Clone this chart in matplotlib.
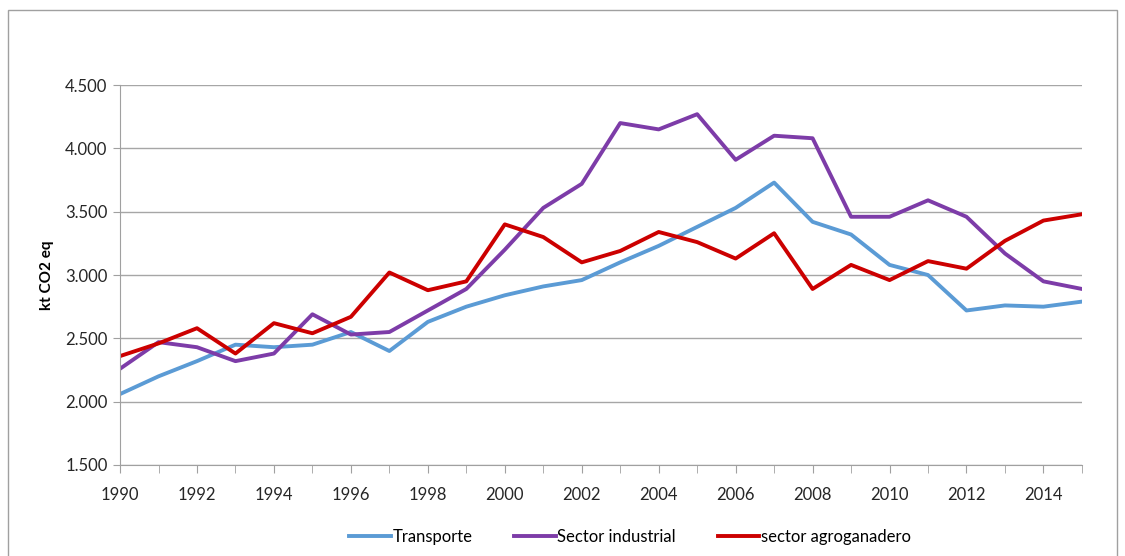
import matplotlib.pyplot as plt
from matplotlib.patches import Rectangle
from matplotlib.ticker import FuncFormatter

years = list(range(1990, 2016))
transporte = [2060, 2200, 2320, 2450, 2430, 2450, 2550, 2400, 2630, 2750,
              2840, 2910, 2960, 3100, 3230, 3380, 3530, 3730, 3420, 3320,
              3080, 3000, 2720, 2760, 2750, 2790]
industrial = [2260, 2470, 2430, 2320, 2380, 2690, 2530, 2550, 2720, 2890,
              3200, 3530, 3720, 4200, 4150, 4270, 3910, 4100, 4080, 3460,
              3460, 3590, 3460, 3170, 2950, 2890]
agro = [2360, 2460, 2580, 2380, 2620, 2540, 2670, 3020, 2880, 2950,
        3400, 3300, 3100, 3190, 3340, 3260, 3130, 3330, 2890, 3080,
        2960, 3110, 3050, 3270, 3430, 3480]
labels = ['Transporte', 'Sector industrial', 'sector agroganadero']
colors = ['#5b9bd5', '#7d3ca8', '#cc0000']

plt.rcParams['font.family'] = ['Lato', 'DejaVu Sans']

fig = plt.figure(figsize=(11.25, 5.56), dpi=100)
ax = fig.add_axes([0.1067, 0.1637, 0.855, 0.6833])

for serie, lab, col in zip([transporte, industrial, agro], labels, colors):
    ax.plot(years, serie, color=col, linewidth=2.8, label=lab)

ax.set_xlim(1990, 2015)
ax.set_ylim(1500, 4500)
ax.set_yticks(range(1500, 4501, 500))
ax.yaxis.set_major_formatter(FuncFormatter(lambda v, p: f'{int(v):,}'.replace(',', '.')))
ax.set_xticks(years, minor=True)
ax.set_xticks(range(1990, 2015, 2))
ax.tick_params(axis='x', which='both', length=6, color='#a0a0a0', labelsize=12,
               labelcolor='#262626')
ax.tick_params(axis='x', which='major', pad=10)
ax.tick_params(axis='y', length=5, color='#a0a0a0', labelsize=12, pad=4, labelcolor='#262626')
ax.grid(axis='y', color='#a6a6a6', linewidth=1)
ax.set_axisbelow(True)
for s in ['top', 'right']:
    ax.spines[s].set_visible(False)
for s in ['left', 'bottom']:
    ax.spines[s].set_color('#a0a0a0')
ax.set_ylabel('kt CO2 eq', fontweight='bold', fontsize=11, labelpad=8)

fig.legend(loc='center', bbox_to_anchor=(0.56, 0.035), ncol=3, frameon=False,
           fontsize=12, handlelength=2.5, handletextpad=0.1, columnspacing=2.5)

fig.patches.append(Rectangle((0.007, -0.01), 0.986, 0.992, transform=fig.transFigure,
                             fill=False, edgecolor='#a0a0a0', linewidth=1))

plt.savefig('out.png', dpi=100)
